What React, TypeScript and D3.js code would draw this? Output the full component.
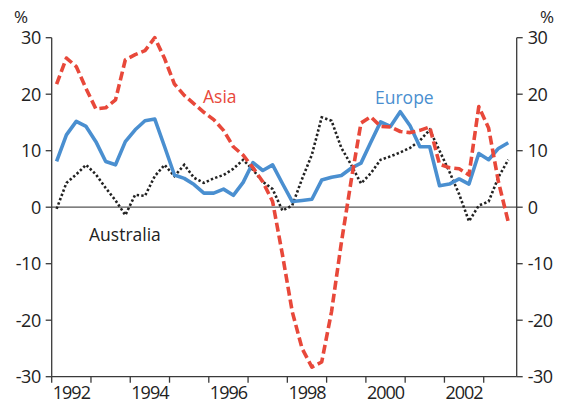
import React from "react";
import * as d3 from "d3";

const asia = [21.8, 26.4, 24.9, 21.0, 17.4, 17.6, 19.0, 26.1, 27.0, 27.7, 30.0, 26.3, 21.8, 19.8, 18.3, 16.8, 15.5, 13.6, 10.7, 9.2, 7.0, 4.5, 1.0, -8.4, -18.5, -25.0, -28.3, -27.4, -18.5, -6.3, 4.7, 14.9, 16.0, 14.3, 14.2, 13.4, 13.2, 13.6, 14.2, 7.6, 7.0, 6.8, 5.7, 17.8, 14.0, 4.5, -2.6];
const europe = [8.1, 12.8, 15.2, 14.3, 11.6, 8.1, 7.5, 11.6, 13.7, 15.3, 15.6, 10.7, 5.7, 5.1, 4.0, 2.5, 2.5, 3.2, 2.1, 4.4, 7.9, 6.5, 7.5, 4.2, 1.0, 1.2, 1.4, 4.8, 5.3, 5.6, 6.9, 7.8, 11.5, 15.1, 14.3, 16.9, 14.4, 10.7, 10.7, 3.8, 4.1, 5.0, 4.1, 9.5, 8.4, 10.4, 11.4];
const australia = [-0.3, 4.3, 5.8, 7.5, 5.8, 3.4, 1.2, -1.4, 2.2, 2.0, 5.5, 7.5, 5.5, 7.5, 5.2, 4.3, 5.1, 5.7, 6.8, 8.4, 6.6, 4.5, 3.2, -0.6, 0.3, 5.0, 9.3, 15.9, 15.3, 10.5, 7.5, 4.2, 6.0, 8.4, 9.0, 9.7, 10.5, 11.8, 13.7, 10.0, 6.3, 2.3, -2.5, 0.3, 1.0, 5.3, 8.4];
const startYear = 1992;
const yTicks = [30, 20, 10, 0, -10, -20, -30];
const yearTicks = [1992, 1993, 1994, 1995, 1996, 1997, 1998, 1999, 2000, 2001, 2002, 2003];
const yearLabels = [1992, 1994, 1996, 1998, 2000, 2002];

const W = 563;
const H = 403;
const left = 51.7;
const right = 516.7;
const top = 37.7;
const bottom = 376.7;
const FONT = "'Open Sans', 'Noto Sans', sans-serif";
const AX = "#3a3a3a";

export default function App() {
  const x = d3.scaleLinear().domain([1992, 2003.84]).range([left, right]);
  const y = d3.scaleLinear().domain([-30, 30]).range([bottom, top]);
  const t = (i: number) => startYear + (i + 0.5) / 4;
  const line = d3
    .line<number>()
    .x((_, i) => x(t(i)))
    .y((d) => y(d));

  return (
    <svg width={W} height={H} style={{ position: "absolute", left: 0, top: 0, background: "#fff" }}>
      {/* zero line */}
      <line x1={left} x2={right} y1={y(0)} y2={y(0)} stroke="#555" strokeWidth={1.2} />

      {/* series */}
      <path d={line(australia) || ""} fill="none" stroke="#222" strokeWidth={2.6} strokeDasharray="2.4,2.2" />
      <path d={line(europe) || ""} fill="none" stroke="#4a8fd0" strokeWidth={3.6} strokeLinejoin="round" />
      <path d={line(asia) || ""} fill="none" stroke="#e8483a" strokeWidth={3.6} strokeDasharray="9,4" strokeLinejoin="round" />

      {/* axes */}
      <line x1={left} x2={left} y1={top} y2={bottom} stroke={AX} strokeWidth={1.3} />
      <line x1={right} x2={right} y1={top} y2={bottom} stroke={AX} strokeWidth={1.3} />
      <line x1={left} x2={right} y1={bottom} y2={bottom} stroke={AX} strokeWidth={1.3} />

      {yTicks.map((v) => (
        <g key={v}>
          <line x1={left - 6} x2={left} y1={y(v)} y2={y(v)} stroke={AX} strokeWidth={1.3} />
          <line x1={right} x2={right + 6} y1={y(v)} y2={y(v)} stroke={AX} strokeWidth={1.3} />
          <text x={left - 11} y={y(v) + 6.5} textAnchor="end" fontFamily={FONT} fontSize={18} fill="#222" letterSpacing={-0.5}>
            {v}
          </text>
          <text x={right + 11} y={y(v) + 6.5} textAnchor="start" fontFamily={FONT} fontSize={18} fill="#222" letterSpacing={-0.5}>
            {v}
          </text>
        </g>
      ))}

      {yearTicks.map((yr) => (
        <line key={yr} x1={x(yr)} x2={x(yr)} y1={bottom} y2={bottom + 6} stroke={AX} strokeWidth={1.3} />
      ))}
      {yearLabels.map((yr) => (
        <text key={yr} x={x(yr + 0.5)} y={399} textAnchor="middle" fontFamily={FONT} fontSize={18} fill="#222" letterSpacing={-1}>
          {yr}
        </text>
      ))}

      <text x={14} y={23} fontFamily={FONT} fontSize={17} fill="#222">%</text>
      <text x={540} y={23} fontFamily={FONT} fontSize={17} fill="#222">%</text>

      <text x={203} y={103} fontFamily={FONT} fontSize={17.5} fill="#e8483a">Asia</text>
      <text x={375} y={104} fontFamily={FONT} fontSize={17.5} fill="#4a8fd0">Europe</text>
      <text x={89} y={241} fontFamily={FONT} fontSize={17.5} fill="#222">Australia</text>
    </svg>
  );
}
